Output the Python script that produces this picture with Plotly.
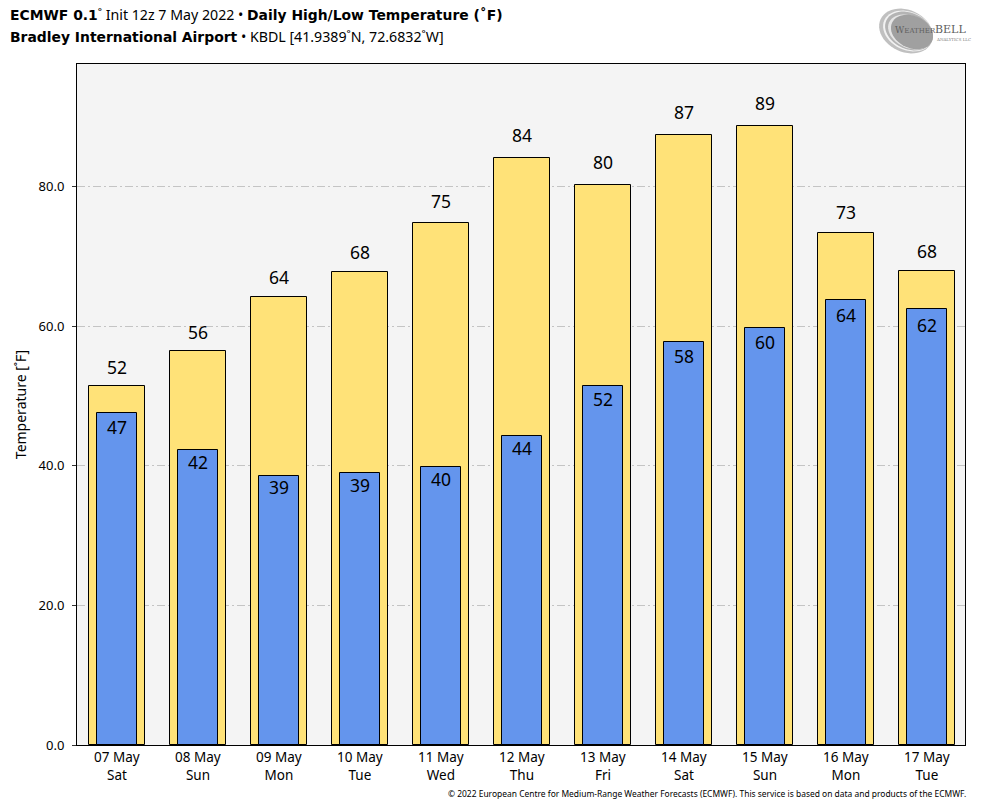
import math
import plotly.graph_objects as go

dates = ["07 May", "08 May", "09 May", "10 May", "11 May", "12 May", "13 May", "14 May", "15 May", "16 May", "17 May"]
days = ["Sat", "Sun", "Mon", "Tue", "Wed", "Thu", "Fri", "Sat", "Sun", "Mon", "Tue"]
highs = [51.5, 56.5, 64.2, 67.7, 74.8, 84.1, 80.3, 87.4, 88.7, 73.3, 67.9]
lows = [47.5, 42.3, 38.6, 39.0, 39.9, 44.3, 51.5, 57.8, 59.8, 63.8, 62.4]
high_labels = ["52", "56", "64", "68", "75", "84", "80", "87", "89", "73", "68"]
low_labels = ["47", "42", "39", "39", "40", "44", "52", "58", "60", "64", "62"]
yticks = [0, 20, 40, 60, 80]

cats = [f"{d}<br>{w}" for d, w in zip(dates, days)]
BODY = "Noto Sans"
L, R, T, B = 77, 965, 64, 745


def px(x):
    return (x - L) / (R - L)


def py(y):
    return (B - y) / (B - T)


fig = go.Figure()
fig.add_bar(x=cats, y=highs, width=0.69, marker=dict(color="#FFE278", line=dict(color="black", width=1)),
            showlegend=False, hoverinfo="skip")
fig.add_bar(x=cats, y=lows, width=0.5, marker=dict(color="#6495ED", line=dict(color="black", width=1)),
            showlegend=False, hoverinfo="skip")
fig.add_scatter(x=cats, y=[h * 1.02 + 1.2 for h in highs], mode="text", text=high_labels,
                textposition="middle center", textfont=dict(family=BODY, size=17.5, color="black"),
                showlegend=False, cliponaxis=False)
fig.add_scatter(x=cats, y=[v * 0.98 - 1.3 for v in lows], mode="text", text=low_labels,
                textposition="middle center", textfont=dict(family=BODY, size=17.5, color="black"),
                showlegend=False, cliponaxis=False)


def note(x, y, text, anchor="left", color="black", **font):
    return dict(x=px(x), y=py(y), xref="paper", yref="paper", xanchor=anchor, yanchor="middle",
                showarrow=False, align=anchor, text=text, font=dict(color=color, **font), borderpad=0)


BOLD = "font-family:DejaVu Sans;font-size:13.9px"
annotations = [
    note(9, 14.5, f"<b style='{BOLD}'>ECMWF 0.1</b>˚ Init 12z 7 May 2022 • "
                  f"<b style='{BOLD}'>Daily High/Low Temperature (˚F)</b>",
         family=BODY, size=14.2),
    note(9, 36.5, f"<b style='{BOLD}'>Bradley International Airport</b> • KBDL [41.9389˚N, 72.6832˚W]",
         family=BODY, size=14.2),
    note(967, 794, "© 2022 European Centre for Medium-Range Weather Forecasts (ECMWF). This service is based on data and products of the ECMWF.",
         anchor="right", family=BODY, size=8.45),
    note(894, 30, "W<span style='font-size:7px'>EATHER</span>", color="#606060", family="DejaVu Serif", size=9),
    note(934, 29, "BELL", color="#606060", family="DejaVu Serif", size=11),
    note(935, 40, "ANALYTICS LLC", color="#808080", family="DejaVu Serif", size=4),
]


def tilted(cx, cy, a, b, deg, fill):
    t = math.radians(deg)
    pts = []
    for i in range(48):
        u = 2 * math.pi * i / 48
        x = cx + a * math.cos(u) * math.cos(t) - b * math.sin(u) * math.sin(t)
        y = cy + a * math.cos(u) * math.sin(t) + b * math.sin(u) * math.cos(t)
        pts.append(f"{px(x):.5f},{py(y):.5f}")
    return dict(type="path", xref="paper", yref="paper", layer="below",
                path="M" + "L".join(pts) + "Z", fillcolor=fill, line=dict(width=0))


shapes = [
    tilted(906, 31, 28, 21, 25, "#c0c0c0"),
    tilted(908, 31, 26, 19, 25, "#f2f2f2"),
    tilted(909, 31, 25, 18, 25, "#b4b4b4"),
    tilted(910, 32, 23, 16, 25, "#e6e6e6"),
    tilted(912, 32, 22, 16, 25, "#a0a0a0"),
]

fig.update_layout(
    width=984, height=808, barmode="overlay", bargap=0,
    margin=dict(l=L, r=984 - R, t=T, b=808 - B, autoexpand=False),
    paper_bgcolor="white", plot_bgcolor="#F4F4F4",
    font=dict(family=BODY, size=14, color="black"),
    annotations=annotations, shapes=shapes,
    xaxis=dict(range=[-0.493, 10.470], showgrid=False, ticks="", showline=True, linecolor="black",
               linewidth=1, mirror=True, tickfont=dict(family=BODY, size=13.5), tickangle=0),
    yaxis=dict(range=[0, 97.57], tickvals=yticks, ticktext=[f"{v:.1f}" for v in yticks],
               ticks="outside", ticklen=4, tickcolor="#333333", showline=True, linecolor="black", linewidth=1,
               mirror=True, showgrid=True, gridcolor="#C4C4C4", griddash="8px,3px,2px,3px", gridwidth=1, zeroline=False,
               ticklabelstandoff=5,
               title=dict(text="Temperature [˚F]", font=dict(family=BODY, size=14), standoff=8),
               tickfont=dict(family=BODY, size=13)),
)

fig.write_html("out.html", config=dict(displayModeBar=False),
               post_script="document.body.style.margin='0';")
